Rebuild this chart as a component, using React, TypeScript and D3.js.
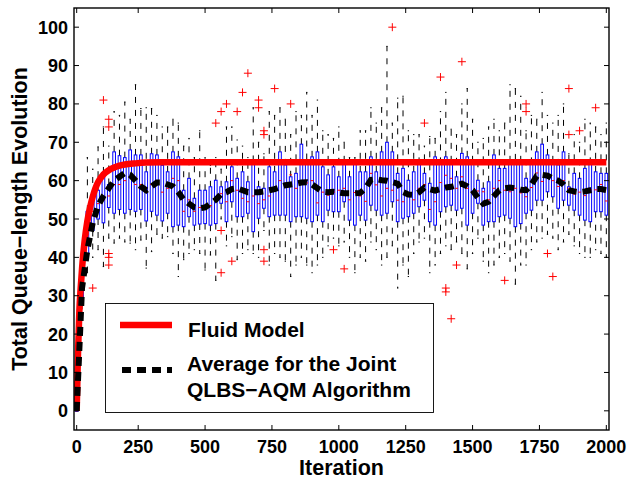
import React from 'react';
import * as d3 from 'd3';

// ---------- data (box index 1..100) ----------
const q1Vals = [0, 28, 41, 47, 50, 49, 53, 51.5, 52.5, 51.5, 52.5, 52, 52.5, 49.5, 52, 51, 49.5, 51.5, 48, 48.4, 48, 50.6, 48.4, 48.7, 48.8, 48.4, 48.8, 54.1, 49.3, 54.5, 50.6, 50.6, 51.5, 46.7, 50.2, 52.8, 50.6, 51, 51, 51, 49.3, 50.6, 50.6, 50.2, 49.3, 51, 49.3, 52.3, 51.9, 51.9, 54.5, 49.7, 48.4, 51, 49.7, 53.6, 52.3, 51, 51.5, 54.5, 49.3, 50.2, 50.6, 51.5, 53.2, 54.9, 49.3, 48.4, 51.9, 53.2, 53.6, 52.3, 52.8, 48.4, 51.5, 54.1, 48.4, 49.3, 49.3, 50.6, 51, 50.2, 48, 48.8, 51.5, 52.3, 54.9, 54.9, 57.1, 55.8, 52.8, 54.9, 53.6, 52.3, 51, 49.7, 49.3, 51.9, 51.9, 51];
const q3Vals = [0, 37, 52, 56, 57.5, 62, 59, 67.5, 66.5, 66, 68, 66.7, 66.7, 62.3, 67, 66.7, 64, 62.3, 67.5, 66.2, 57.5, 60.6, 55.4, 57.5, 57.5, 58.4, 60.1, 58.4, 59.7, 63.6, 60.6, 62.3, 59.7, 65, 58.4, 58, 63.6, 62.3, 67.5, 64.1, 61, 61.9, 69.5, 65.5, 66.2, 67.5, 63.6, 61.5, 63.6, 61, 64.9, 61, 64.5, 62.3, 62.3, 66.2, 62.3, 67.5, 70, 67.5, 61.9, 63.2, 60.1, 62.3, 64.5, 61.9, 59.3, 66.2, 64.5, 66.2, 64.9, 61, 67.1, 66.2, 64.9, 60.1, 58, 59.7, 66.7, 63.2, 63.2, 64.9, 65.4, 64.9, 60.6, 64.5, 67.5, 69.5, 66.7, 64.9, 64.1, 67.5, 58.4, 61.9, 60.6, 63.2, 64.5, 62.3, 61.9, 61.9];
const medianVals = [0, 32, 46, 52, 54, 55, 56, 59, 59, 60, 61, 59, 59, 57, 59, 59, 57, 58, 60.6, 60, 52, 55, 52, 53, 52.8, 53.5, 55, 56.6, 54.5, 60, 57.5, 55.4, 54.5, 56, 54, 55, 56, 58, 60, 59, 61.5, 58, 59, 59.4, 60, 54.2, 57, 56.2, 57, 57.5, 58, 55, 56.9, 56, 54.6, 61.9, 58.9, 56, 58, 57.5, 54.9, 54.5, 56, 55, 58, 59, 52.5, 54.5, 59.5, 61.4, 60.6, 58, 61, 58, 57, 57.3, 57.1, 55, 58, 60, 57.5, 57.1, 58, 56.8, 55.8, 58.2, 62, 59.8, 61.3, 60, 58.5, 60, 58, 56.5, 57, 56.1, 57.6, 57.6, 59, 54.7];
const whiskerHigh = [0, 40, 66, 63, 68.8, 74, 69, 78, 77, 80.5, 76, 85, 78.8, 79, 78.8, 77, 74, 74, 76, 75, 69, 71, 66, 73, 66, 64, 66, 63, 74, 74, 70.6, 69, 66, 79, 70, 67, 78, 77, 79, 76, 72, 78, 77, 83, 77, 81, 73, 72, 71, 74, 70, 66, 66, 73, 73, 79, 75, 79, 95, 75, 81.5, 82, 73, 72, 72, 69, 71.5, 71, 78, 83, 73.4, 72, 80, 84, 76, 70, 71, 74, 76, 73, 75, 85, 84, 82, 73, 77, 76, 83, 77, 75, 77, 80, 67, 72, 70, 76, 75, 74, 72, 75];
const whiskerLow = [0, 25, 36, 40, 42, 37.6, 45, 43.7, 45, 44, 43.7, 42, 44.5, 37.2, 41.5, 46, 45, 45.4, 41, 35, 39.4, 41, 42, 41, 36.7, 40.6, 34, 50, 43, 45.4, 39.4, 41, 42, 41, 40, 47, 38, 41, 40, 39, 35, 38, 40, 38, 36, 38, 40, 43, 45, 43, 44, 40, 36, 40, 39, 44, 42, 38, 40, 43, 32, 38, 35, 41, 44, 45, 36, 38, 41, 43, 42, 44, 41, 37, 41, 45, 39, 36, 38, 40, 41, 39, 33, 38, 38, 42, 44, 45, 46, 45, 42, 44, 46, 43, 41, 40, 40, 42, 41, 40];
const meanVals = [0, 32, 42, 49, 53.5, 56, 58, 60, 61, 62, 61.5, 60, 58.5, 57.5, 58.5, 59.5, 59.5, 59, 58.5, 57, 55, 54, 53, 52.8, 53, 54, 55, 56.5, 57, 57.8, 58, 57.5, 57, 57, 57, 57.2, 57.5, 57.8, 58.3, 58.8, 59, 59.2, 59.5, 59.6, 59, 58, 57.1, 57, 57.1, 56.9, 56.7, 56.7, 56.7, 56.8, 58, 60.2, 60.4, 60.1, 60, 59.6, 59.2, 57, 56.4, 56.3, 57, 58.2, 57.8, 57.4, 57.8, 58.2, 58.4, 58.8, 59.2, 58.5, 57.5, 55.5, 54, 54.5, 56, 57.5, 58, 58.2, 58, 57.6, 57.5, 59, 61.2, 61.5, 61.3, 60.5, 60, 59, 57.5, 57.2, 57, 57.2, 57.5, 57.8, 57.8, 57.5];
// outliers: [box index, value]
const outlierBox = [4, 6, 7, 7, 7, 7, 7, 27, 28, 28, 28, 29, 30, 31, 32, 33, 35, 35, 36, 36, 36, 36, 38, 41, 49, 51, 60, 66, 69, 70, 70, 71, 72, 73, 81, 85, 85, 89, 90, 93, 93, 95, 98];
const outlierVal = [32, 81, 76, 74, 41, 40, 38, 75, 78, 47, 36, 80, 39, 78, 83, 88, 81, 79, 73, 72, 42, 39, 84, 80, 42, 37, 100, 75, 87, 32, 31, 24, 38, 91, 34, 80, 78, 41, 35, 84, 72, 73, 79];
// fluid model curve (box-index position, value)
const fluidPos = [1, 1.25, 1.5, 1.75, 2, 2.5, 3, 3.5, 4, 4.5, 5, 6, 7, 8, 9, 10, 12, 14, 17, 20, 100];
const fluidVal = [0, 15, 26, 32, 37, 44.5, 49.5, 53, 55.8, 58, 59.6, 61.6, 62.7, 63.4, 63.9, 64.2, 64.5, 64.7, 64.8, 64.8, 64.8];
// axis ticks
const xTickPos = [1, 12.5, 25, 37.5, 50, 62.5, 75, 87.5, 100];
const xTickLabels = ['0', '250', '500', '750', '1000', '1250', '1500', '1750', '2000'];
const yTicks = [0, 10, 20, 30, 40, 50, 60, 70, 80, 90, 100];

const W = 627, H = 481;
const L = 74, R = 609, T = 8, B = 430;
const FONT = "'Liberation Sans', Arial, Helvetica, sans-serif";

export default function App() {
  const x = d3.scaleLinear().domain([0.5, 100.5]).range([L, R]);
  const y = d3.scaleLinear().domain([-5, 105]).range([B, T]);
  const boxes = q1Vals.map((q1, i) => ({
    p: i + 1, q1, q3: q3Vals[i], med: medianVals[i], lo: whiskerLow[i], hi: whiskerHigh[i],
  }));
  const hw = (x(1.25) - x(1)); // half box width (0.25 units)
  const cw = (x(1.125) - x(1)); // half cap width
  const fluidLine = d3.line<number>()
    .x((_, i) => x(fluidPos[i]))
    .y((d) => y(d))
    .curve(d3.curveMonotoneX)(fluidVal) || '';
  const meanLine = d3.line<number>()
    .x((_, i) => x(i + 1))
    .y((d) => y(d))(meanVals) || '';
  const tl = 5;

  return (
    <svg width={W} height={H} style={{ position: 'absolute', left: 0, top: 0, background: '#fff' }}
      fontFamily={FONT} fontWeight="bold">
      <rect x={0} y={0} width={W} height={H} fill="#fff" />
      <defs>
        <clipPath id="plotclip"><rect x={L} y={T} width={R - L} height={B - T} /></clipPath>
      </defs>
      <g clipPath="url(#plotclip)">
        {boxes.map((b) => {
          const cx = x(b.p);
          return (
            <g key={b.p}>
              <line x1={cx} x2={cx} y1={y(b.q3)} y2={y(b.hi)} stroke="#000" strokeWidth={1} strokeDasharray="6,7" />
              <line x1={cx} x2={cx} y1={y(b.q1)} y2={y(b.lo)} stroke="#000" strokeWidth={1} strokeDasharray="6,7" />
              <line x1={cx - cw} x2={cx + cw} y1={y(b.hi)} y2={y(b.hi)} stroke="#000" strokeWidth={1} />
              <line x1={cx - cw} x2={cx + cw} y1={y(b.lo)} y2={y(b.lo)} stroke="#000" strokeWidth={1} />
              <rect x={cx - hw} y={y(b.q3)} width={2 * hw} height={Math.max(0.5, y(b.q1) - y(b.q3))}
                fill="none" stroke="#0000ff" strokeWidth={1} />
              <line x1={cx - hw} x2={cx + hw} y1={y(b.med)} y2={y(b.med)} stroke="#ff0000" strokeWidth={1} />
            </g>
          );
        })}
        {outlierBox.map((p, i) => {
          const cx = x(p), cy = y(outlierVal[i]);
          return (
            <g key={'o' + i} stroke="#ff0000" strokeWidth={1}>
              <line x1={cx - 4} x2={cx + 4} y1={cy} y2={cy} />
              <line x1={cx} x2={cx} y1={cy - 4} y2={cy + 4} />
            </g>
          );
        })}
        <path d={fluidLine} fill="none" stroke="#ff0000" strokeWidth={6.5} />
        <path d={meanLine} fill="none" stroke="#000" strokeWidth={6} strokeDasharray="9,6" />
      </g>
      {/* axes box */}
      <rect x={L} y={T} width={R - L} height={B - T} fill="none" stroke="#000" strokeWidth={1.4} />
      {xTickPos.map((p, i) => (
        <g key={'xt' + i}>
          <line x1={x(p)} x2={x(p)} y1={B} y2={B - tl} stroke="#000" strokeWidth={1} />
          <line x1={x(p)} x2={x(p)} y1={T} y2={T + tl} stroke="#000" strokeWidth={1} />
          <text x={x(p)} y={453} textAnchor="middle" fontSize={18}>{xTickLabels[i]}</text>
        </g>
      ))}
      {yTicks.map((v) => (
        <g key={'yt' + v}>
          <line x1={L} x2={L + tl} y1={y(v)} y2={y(v)} stroke="#000" strokeWidth={1} />
          <line x1={R} x2={R - tl} y1={y(v)} y2={y(v)} stroke="#000" strokeWidth={1} />
          <text x={68} y={y(v) + 6.5} textAnchor="end" fontSize={18}>{v}</text>
        </g>
      ))}
      <text x={(L + R) / 2} y={475} textAnchor="middle" fontSize={21.5}>Iteration</text>
      <text transform={`translate(27,${(T + B) / 2}) rotate(-90)`} textAnchor="middle" fontSize={21.5}>
        Total Queue−length Evolution
      </text>
      {/* legend */}
      <g>
        <rect x={105.5} y={303.5} width={328} height={109} fill="#fff" stroke="#000" strokeWidth={0.9} />
        <line x1={120} x2={172} y1={325} y2={325} stroke="#ff0000" strokeWidth={6.5} />
        <text x={188} y={337} fontSize={21}>Fluid Model</text>
        <line x1={122} x2={172} y1={370} y2={370} stroke="#000" strokeWidth={6} strokeDasharray="9,6" />
        <text x={187} y={370.5} fontSize={21}>Average for the Joint</text>
        <text x={187} y={396.5} fontSize={21}>QLBS−AQM Algorithm</text>
      </g>
    </svg>
  );
}
